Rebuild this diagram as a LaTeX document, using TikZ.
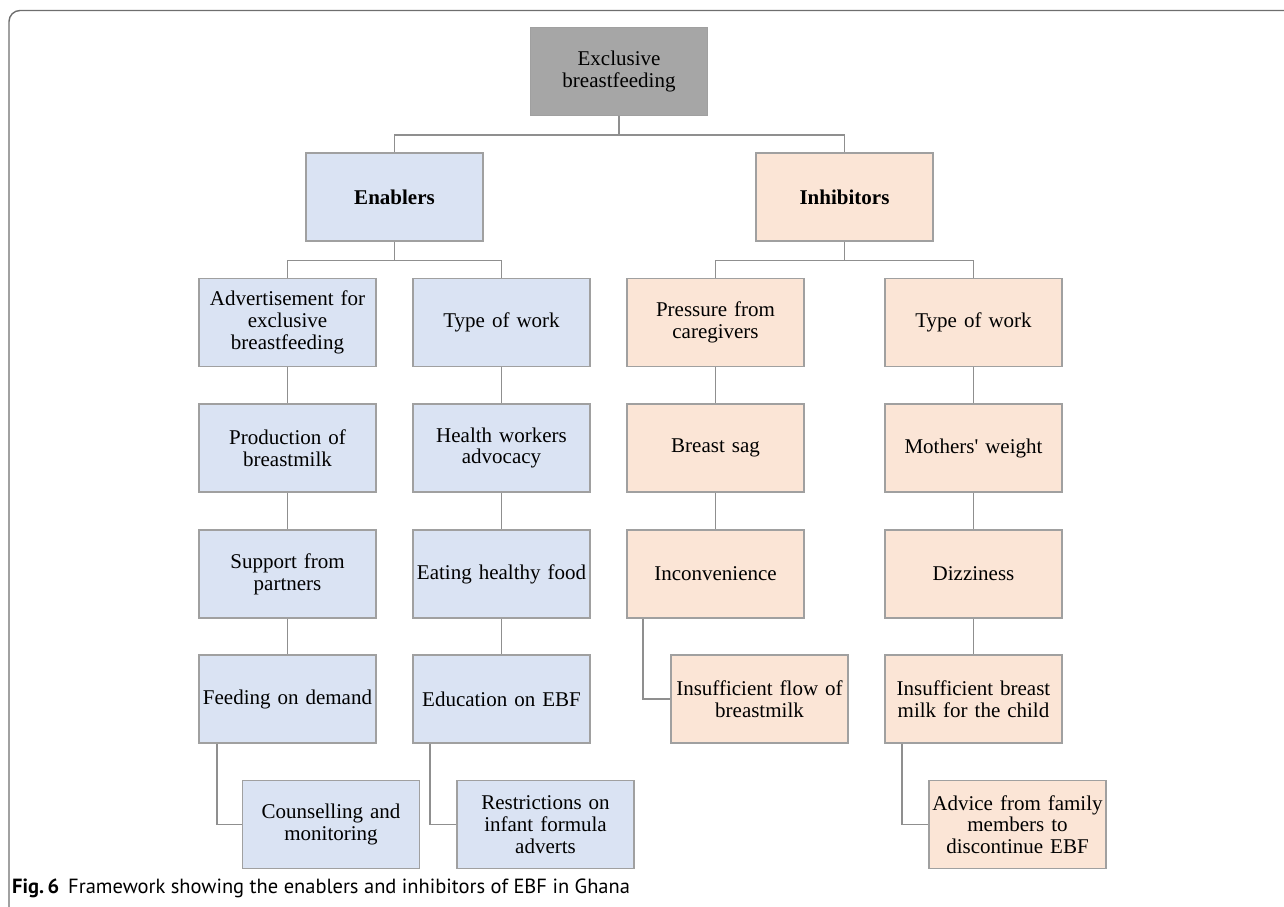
\documentclass[tikz,border=0pt]{standalone}
\usepackage{fontspec}
\setmainfont[WordSpace=0.8]{Liberation Serif}
\newfontfamily\capfont{PT Sans}
\definecolor{bluefill}{HTML}{DAE3F3}
\definecolor{orangefill}{HTML}{FBE5D6}
\definecolor{rootfill}{HTML}{A6A6A6}
\definecolor{boxline}{HTML}{A0A0A0}
\definecolor{conline}{HTML}{8F8F8F}
\definecolor{frameline}{HTML}{6E6E6E}
\tikzset{
  box/.style={draw=boxline, line width=1.8pt, minimum width=177pt, minimum height=88pt,
    text width=175pt, align=center, inner sep=0pt,
    font=\fontsize{21}{21.8}\selectfont},
  enab/.style={box, fill=bluefill},
  inhib/.style={box, fill=orangefill},
  rootbox/.style={box, fill=rootfill},
  conn/.style={draw=conline, line width=1.8pt},
}
\begin{document}
\begin{tikzpicture}[x=1pt,y=-1pt]
\useasboundingbox (0,0) rectangle (1284,906);
\draw[frameline, line width=1.4pt, rounded corners=11pt] (1300,10.5) -- (9,10.5) -- (9,920);

\node[rootbox] (root) at (619,71.5) {Exclusive\\breastfeeding};
\node[enab] (en) at (394.5,197) {\textbf{Enablers}};
\node[inhib] (in) at (844.5,197) {\textbf{Inhibitors}};

% enablers column 1
\node[enab] (a1) at (287.5,322.5) {Advertisement for\\exclusive\\breastfeeding};
\node[enab] (a2) at (287.5,448) {Production of\\breastmilk};
\node[enab] (a3) at (287.5,574) {Support from\\partners};
\node[enab] (a4) at (287.5,699) {Feeding on demand};
\node[enab] (a5) at (331,824.5) {Counselling and\\monitoring};
% enablers column 2
\node[enab] (b1) at (501.5,322.5) {Type of work};
\node[enab] (b2) at (501.5,448) {Health workers\\advocacy};
\node[enab] (b3) at (501.5,574) {Eating healthy food};
\node[enab] (b4) at (501.5,699) {Education on EBF};
\node[enab] (b5) at (545.5,824.5) {Restrictions on\\infant formula\\adverts};
% inhibitors column 1
\node[inhib] (c1) at (715.5,322.5) {Pressure from\\caregivers};
\node[inhib] (c2) at (715.5,448) {Breast sag};
\node[inhib] (c3) at (715.5,574) {Inconvenience};
\node[inhib] (c4) at (759.5,699) {Insufficient flow of\\breastmilk};
% inhibitors column 2
\node[inhib] (d1) at (973.5,322.5) {Type of work};
\node[inhib] (d2) at (973.5,448) {Mothers\textquotesingle{} weight};
\node[inhib] (d3) at (973.5,574) {Dizziness};
\node[inhib] (d4) at (973.5,699) {Insufficient breast\\milk for the child};
\node[inhib] (d5) at (1017.5,824.5) {Advice from family\\members to\\discontinue EBF};

% connectors
\draw[conn] (root.south) -- ++(0,18.5) -| (en.north);
\draw[conn] (root.south) -- ++(0,18.5) -| (in.north);
\draw[conn] (en.south) -- ++(0,18.5) -| (a1.north);
\draw[conn] (en.south) -- ++(0,18.5) -| (b1.north);
\draw[conn] (in.south) -- ++(0,18.5) -| (c1.north);
\draw[conn] (in.south) -- ++(0,18.5) -| (d1.north);
\draw[conn] (a1) -- (a2);
\draw[conn] (a2) -- (a3);
\draw[conn] (a3) -- (a4);
\draw[conn] (b1) -- (b2);
\draw[conn] (b2) -- (b3);
\draw[conn] (b3) -- (b4);
\draw[conn] (c1) -- (c2);
\draw[conn] (c2) -- (c3);
\draw[conn] (d1) -- (d2);
\draw[conn] (d2) -- (d3);
\draw[conn] (d3) -- (d4);
\draw[conn] ([xshift=19pt]a4.south west) |- (a5.west);
\draw[conn] ([xshift=18pt]b4.south west) |- (b5.west);
\draw[conn] ([xshift=17pt]c3.south west) |- (c4.west);
\draw[conn] ([xshift=18pt]d4.south west) |- (d5.west);

\node[anchor=base west, inner sep=0pt, font=\capfont\fontsize{20.5}{22}\selectfont] (cap) at (12,893)
  {\textbf{Fig.\,6}\hspace{9pt}Framework showing the enablers and inhibitors of EBF in Ghana};
\end{tikzpicture}
\end{document}
